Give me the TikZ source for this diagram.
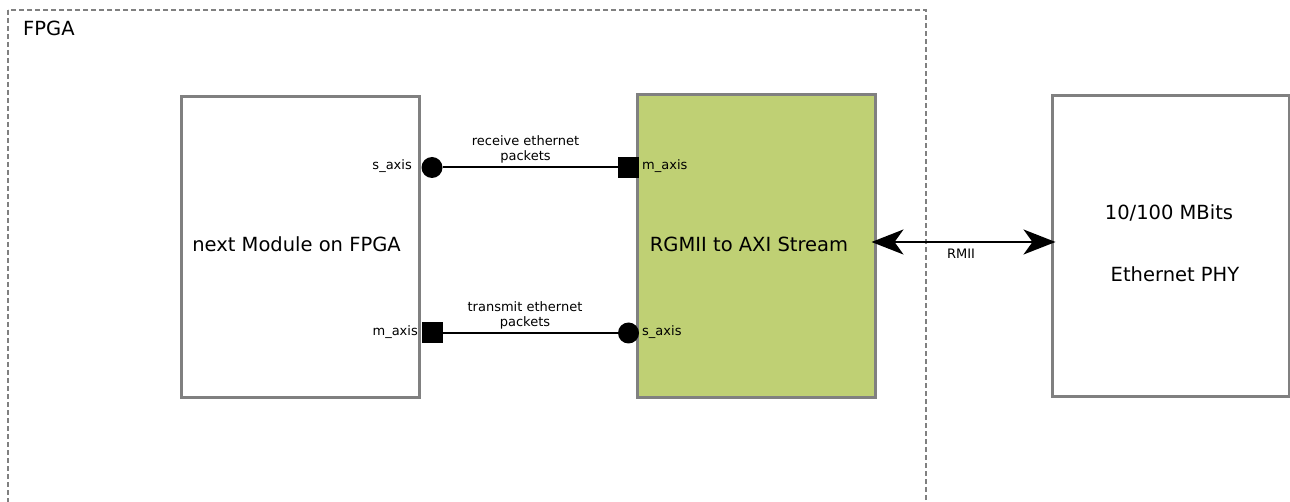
\documentclass[tikz,border=0pt]{standalone}
\usepackage{fontspec}
\setmainfont{DejaVu Sans}
\usetikzlibrary{arrows.meta}
\definecolor{frame}{RGB}{128,128,128}
\definecolor{coregreen}{RGB}{191,208,116}
\tikzset{
  block/.style={draw=frame, line width=3pt, fill=white, minimum width=238pt, minimum height=300pt, inner sep=0pt},
  bigtext/.style={font=\fontsize{19.5}{23}\selectfont, inner sep=0pt},
  smalltext/.style={font=\fontsize{13}{15}\selectfont, inner sep=0pt},
  portin/.style={circle, fill=black, minimum size=21pt, inner sep=0pt},
  portout/.style={rectangle, fill=black, minimum size=21pt, inner sep=0pt},
  link/.style={line width=2pt},
  bighead/.tip={Stealth[length=32pt,width=25pt,inset=9pt]},
}
\begin{document}
\begin{tikzpicture}[x=1pt, y=-1pt]
\path[clip] (0,0) rectangle (1290,502);

% FPGA region
\draw[frame, line width=2pt, dash pattern=on 5pt off 3pt] (8,10) rectangle (926,540);
\node[bigtext, anchor=base west] (fpga) at (23,36) {FPGA};

% blocks
\node[block, minimum height=300pt] (mod) at (300,247) {};
\node[block, fill=coregreen, minimum height=302pt] (rgmii) at (756,246) {};
\node[block, minimum width=237pt, minimum height=301pt] (phy) at (1170.5,246) {};

\node[bigtext, anchor=base] (modtxt) at (296.5,252) {next Module on FPGA};
\node[bigtext, anchor=base] (rgmiitxt) at (749,252) {RGMII to AXI Stream};
\node[bigtext, anchor=base] (phytxta) at (1169,220) {10/100 MBits};
\node[bigtext, anchor=base] (phytxtb) at (1175,282) {Ethernet PHY};

% receive path
\node[portin] (rxs) at (432,167.5) {};
\node[portout] (rxm) at (628.5,167.5) {};
\draw[link] (rxs) -- (rxm);
\node[smalltext, anchor=east] (rxslbl) at (412,166) {s\_axis};
\node[smalltext, anchor=west] (rxmlbl) at (642,166) {m\_axis};
\node[smalltext, align=center] (rxlbl) at (525.5,149) {receive ethernet\\packets};

% transmit path
\node[portout] (txm) at (432,333) {};
\node[portin] (txs) at (628.5,333) {};
\draw[link] (txm) -- (txs);
\node[smalltext, anchor=east] (txmlbl) at (418,332) {m\_axis};
\node[smalltext, anchor=west] (txslbl) at (642,332) {s\_axis};
\node[smalltext, align=center] (txlbl) at (525,315) {transmit ethernet\\packets};

% RMII link
\draw[link, {bighead}-{bighead}]
  ([xshift=-5pt,yshift=4pt]rgmii.east) -- ([xshift=5pt,yshift=4pt]phy.west);
\node[smalltext] (rmii) at (961,254) {RMII};
\end{tikzpicture}
\end{document}
